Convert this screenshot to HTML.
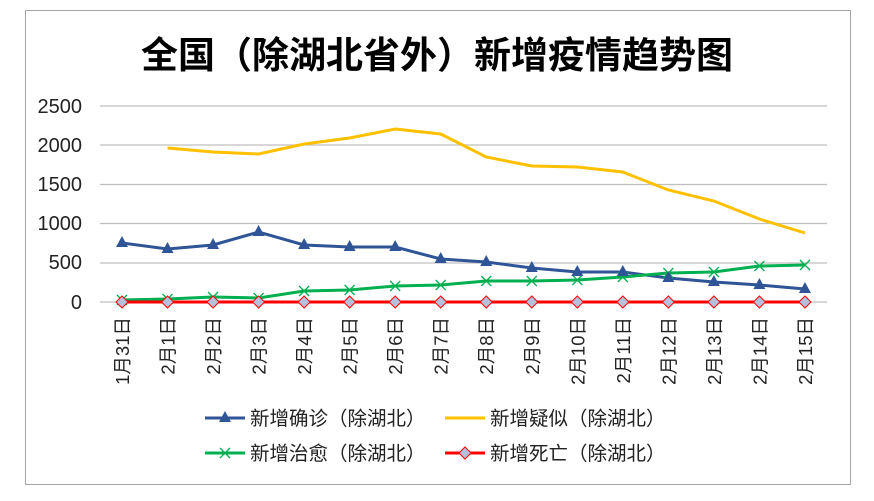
<!DOCTYPE html>
<html><head><meta charset="utf-8"><style>
body{margin:0;background:#fff;}
svg text{font-family:"Liberation Sans","Noto Sans CJK SC",sans-serif;}
</style></head><body>
<svg width="874" height="496" viewBox="0 0 874 496" xmlns="http://www.w3.org/2000/svg">
<rect x="0" y="0" width="874" height="496" fill="#fff"/>
<rect x="25.5" y="10.5" width="825" height="474" fill="none" stroke="#a6a6a6" stroke-width="1"/>
<text x="437" y="68" text-anchor="middle" font-size="37" font-weight="bold" fill="#000">全国（除湖北省外）新增疫情趋势图</text>
<g stroke="#bfbfbf" stroke-width="1.3">
<line x1="100" y1="106" x2="827" y2="106"/><line x1="100" y1="145" x2="827" y2="145"/>
<line x1="100" y1="184.5" x2="827" y2="184.5"/><line x1="100" y1="223.5" x2="827" y2="223.5"/>
<line x1="100" y1="263" x2="827" y2="263"/><line x1="100" y1="302" x2="827" y2="302"/>
</g>
<g font-size="20" fill="#222" text-anchor="end">
<text x="82" y="113">2500</text><text x="82" y="152">2000</text><text x="82" y="191">1500</text>
<text x="82" y="230">1000</text><text x="82" y="269">500</text><text x="82" y="309">0</text>
</g>
<g font-size="18.5" fill="#222" text-anchor="end" id="xl"></g>
<polyline fill="none" stroke="#ffc000" stroke-width="3" points="167.5,148 213,152 258.6,154 304.1,144 349.6,138 395.2,129 440.7,134 486.2,157 531.8,166 577.3,167 622.8,172 668.4,190 713.9,201 759.4,219 805,233"/>
<polyline fill="none" stroke="#2f5597" stroke-width="3" points="122,243 167.5,249 213,245 258.6,232 304.1,245 349.6,247 395.2,247 440.7,259 486.2,262 531.8,268 577.3,272 622.8,272 668.4,278 713.9,282 759.4,285 805,289"/>
<polyline fill="none" stroke="#00b050" stroke-width="3" points="122,300 167.5,299 213,297 258.6,298 304.1,291 349.6,290 395.2,286 440.7,285 486.2,281 531.8,281 577.3,280 622.8,277 668.4,273 713.9,272 759.4,266 805,265"/>
<polyline fill="none" stroke="#ff0000" stroke-width="3" points="122,302 805,302"/>
<g id="mk"></g>
<g font-size="19.5" fill="#222">
<line x1="205" y1="418" x2="245" y2="418" stroke="#2f5597" stroke-width="3"/><polygon points="225,411 231,422 219,422" fill="#2f5597"/>
<text x="250" y="425">新增确诊（除湖北）</text>
<line x1="445" y1="418" x2="485" y2="418" stroke="#ffc000" stroke-width="3"/>
<text x="490" y="425">新增疑似（除湖北）</text>
<line x1="205" y1="453" x2="245" y2="453" stroke="#00b050" stroke-width="3"/>
<path d="M220,448 L230,458 M230,448 L220,458" stroke="#00b050" stroke-width="1.3"/>
<text x="250" y="460">新增治愈（除湖北）</text>
<line x1="445" y1="453" x2="485" y2="453" stroke="#ff0000" stroke-width="3"/>
<polygon points="465,447 471,453 465,459 459,453" fill="#b4c0dc" stroke="#ff0000" stroke-width="1"/>
<text x="490" y="460">新增死亡（除湖北）</text>
</g>
</svg>
<script>
var ns="http://www.w3.org/2000/svg";
var labels=["1月31日"];for(var i=1;i<=15;i++)labels.push("2月"+i+"日");
var xl=document.getElementById("xl"),mk=document.getElementById("mk");
var blue=[243,249,245,232,245,247,247,259,262,268,272,272,278,282,285,289];
var green=[300,299,297,298,291,290,286,285,281,281,280,277,273,272,266,265];
labels.forEach(function(l,i){
 var x=122+i*45.53;
 var t=document.createElementNS(ns,"text");t.setAttribute("transform","translate("+(x+7)+",317) rotate(-90)");t.textContent=l;xl.appendChild(t);
 var p=document.createElementNS(ns,"path");p.setAttribute("d","M"+(x-5)+","+(green[i]-5)+"L"+(x+5)+","+(green[i]+5)+"M"+(x+5)+","+(green[i]-5)+"L"+(x-5)+","+(green[i]+5));p.setAttribute("stroke","#00b050");p.setAttribute("stroke-width","1.3");mk.appendChild(p);
 var b=blue[i];var tr=document.createElementNS(ns,"polygon");tr.setAttribute("points",x+","+(b-7)+" "+(x+6)+","+(b+4)+" "+(x-6)+","+(b+4));tr.setAttribute("fill","#2f5597");mk.appendChild(tr);
 var d=document.createElementNS(ns,"polygon");d.setAttribute("points",x+",296 "+(x+6)+",302 "+x+",308 "+(x-6)+",302");d.setAttribute("fill","#b4c0dc");d.setAttribute("stroke","#ff0000");d.setAttribute("stroke-width","1");mk.appendChild(d);
});
</script>
</body></html>
